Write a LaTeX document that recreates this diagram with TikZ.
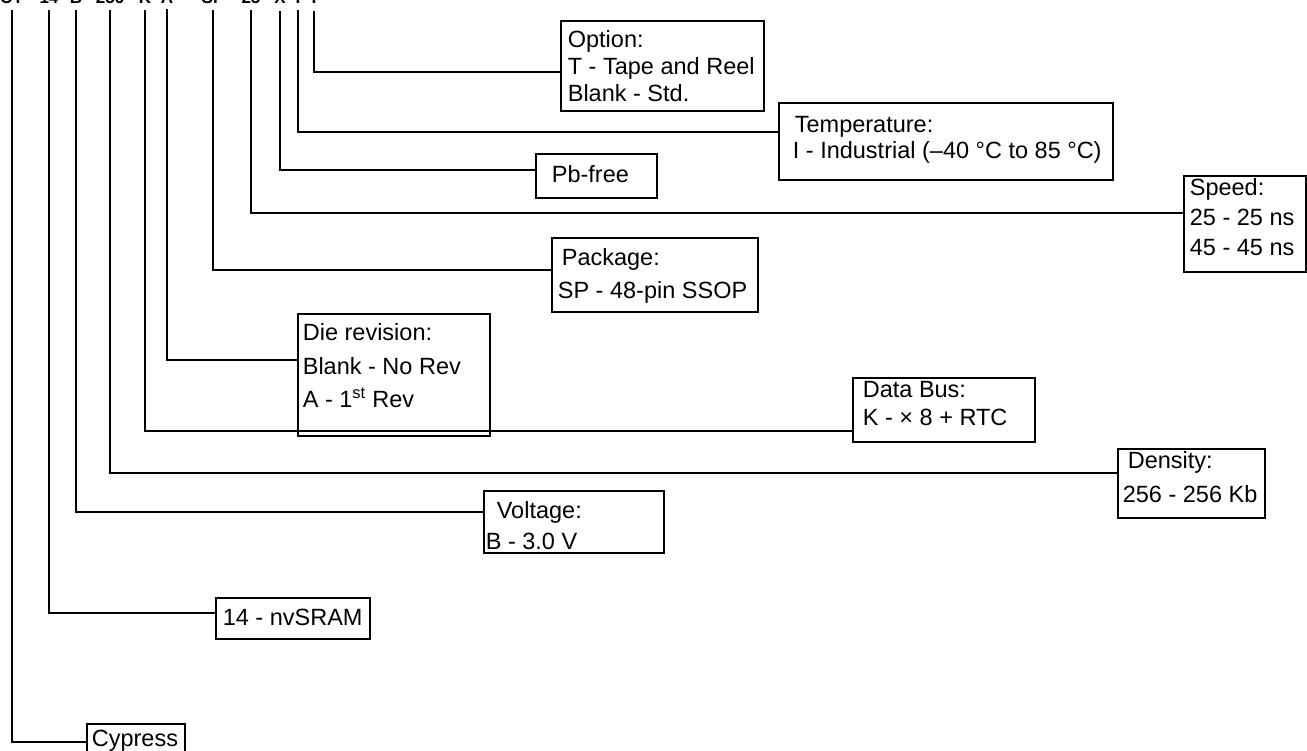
\documentclass[tikz,border=0pt]{standalone}
\usepackage{fontspec}
\setmainfont{Liberation Sans}
\newcommand{\bxc}[6]{%
  \fontsize{#4}{#5}\selectfont
  \vbox to #2{\hsize=#1\relax\vskip\dimexpr#3-\ht\strutbox\relax #6\vfil}}
\newcommand{\bxl}[2]{\hbox to \hsize{\hskip#1\strut #2\hfil}}
\tikzset{
  bx/.style={draw, line width=1.7pt, inner sep=0pt, anchor=north west},
  conn/.style={line width=1.9pt},
  code/.style={font=\fontsize{17}{20}\selectfont\bfseries, anchor=base, inner sep=0pt}
}
\begin{document}
\begin{tikzpicture}[x=1pt,y=-1pt]
\useasboundingbox (0,0) rectangle (1307,751);
% part number (cut off at top)
\node[code] (cCY) at (12,4) {CY};
\node[code] (c14) at (49,4) {14};
\node[code] (cB) at (76,4) {B};
\node[code] (c256) at (110,4) {256};
\node[code] (cK) at (145,4) {K};
\node[code] (cA) at (167,4) {A};
\node[code] (cdash) at (190,4) {-};
\node[code] (cSP) at (213,4) {SP};
\node[code] (c25) at (251,4) {25};
\node[code] (cX) at (280,4) {X};
\node[code] (cI) at (298,4) {I};
\node[code] (cT) at (314,4) {T};
% boxes
\node[bx] (opt) at (560,20) {\bxc{203pt}{90pt}{27pt}{23.5}{27}{%
  \bxl{7pt}{Option:}\bxl{7pt}{T - Tape and Reel}\bxl{7pt}{Blank - Std.}}};
\node[bx] (temp) at (778,102) {\bxc{334pt}{77pt}{30pt}{23.5}{24}{%
  \bxl{16pt}{Temperature:}\bxl{14pt}{I - Industrial (–40 °C to 85 °C)}}};
\node[bx] (pb) at (535,153) {\bxc{121pt}{44pt}{29pt}{23.5}{27}{%
  \bxl{16pt}{Pb-free}}};
\node[bx] (speed) at (1183,175) {\bxc{122pt}{96pt}{20pt}{23.5}{30}{%
  \bxl{6pt}{Speed:}\bxl{6pt}{25 - 25 ns}\bxl{6pt}{45 - 45 ns}}};
\node[bx] (pkg) at (551,237) {\bxc{206pt}{74pt}{28pt}{23.5}{33}{%
  \bxl{10pt}{Package:}\bxl{6pt}{SP - 48-pin SSOP}}};
\node[bx] (die) at (297,313) {\bxc{192pt}{122pt}{27pt}{23.5}{33.5}{%
  \bxl{5pt}{Die revision:}\bxl{5pt}{Blank - No Rev}\bxl{5pt}{A - 1\textsuperscript{st} Rev}}};
\node[bx] (bus) at (852,377) {\bxc{182pt}{64pt}{20pt}{23.5}{28}{%
  \bxl{10pt}{Data Bus:}\bxl{10pt}{K - × 8 + RTC}}};
\node[bx] (dens) at (1117,448) {\bxc{147pt}{69pt}{20pt}{23.5}{34}{%
  \bxl{10pt}{Density:}\bxl{5pt}{256 - 256 Kb}}};
\node[bx] (volt) at (483,490) {\bxc{180pt}{62pt}{28pt}{23.5}{31}{%
  \bxl{13pt}{Voltage:}\bxl{2pt}{B - 3.0 V}}};
\node[bx] (nv) at (215,597) {\bxc{154pt}{41pt}{28pt}{23.5}{27}{%
  \bxl{7pt}{14 - nvSRAM}}};
\node[bx] (cy) at (86,723) {\bxc{98pt}{40pt}{23pt}{23.5}{27}{%
  \bxl{5pt}{Cypress}}};
% connector coordinates
\coordinate (vT) at (314,11);   \coordinate (jT) at (314,72);
\coordinate (vI) at (298,10);   \coordinate (jI) at (298,132);
\coordinate (vX) at (280,11);   \coordinate (jX) at (280,170);
\coordinate (v25) at (251,10);  \coordinate (j25) at (251,213);
\coordinate (vSP) at (213,10);  \coordinate (jSP) at (213,270);
\coordinate (vA) at (167,9);    \coordinate (jA) at (167,360);
\coordinate (vK) at (145,10);   \coordinate (jK) at (145,431);
\coordinate (v256) at (110,10); \coordinate (j256) at (110,473);
\coordinate (vB) at (76,10);    \coordinate (jB) at (76,512);
\coordinate (v14) at (49,10);   \coordinate (j14) at (49,613);
\coordinate (vCY) at (12,10);   \coordinate (jCY) at (12,742);
\draw[conn] (vT) -- (jT) -- (opt.west |- jT);
\draw[conn] (vI) -- (jI) -- (temp.west |- jI);
\draw[conn] (vX) -- (jX) -- (pb.west |- jX);
\draw[conn] (v25) -- (j25) -- (speed.west |- j25);
\draw[conn] (vSP) -- (jSP) -- (pkg.west |- jSP);
\draw[conn] (vA) -- (jA) -- (die.west |- jA);
\draw[conn] (vK) -- (jK) -- (bus.west |- jK);
\draw[conn] (v256) -- (j256) -- (dens.west |- j256);
\draw[conn] (vB) -- (jB) -- (volt.west |- jB);
\draw[conn] (v14) -- (j14) -- (nv.west |- j14);
\draw[conn] (vCY) -- (jCY) -- (cy.west |- jCY);
\end{tikzpicture}
\end{document}
